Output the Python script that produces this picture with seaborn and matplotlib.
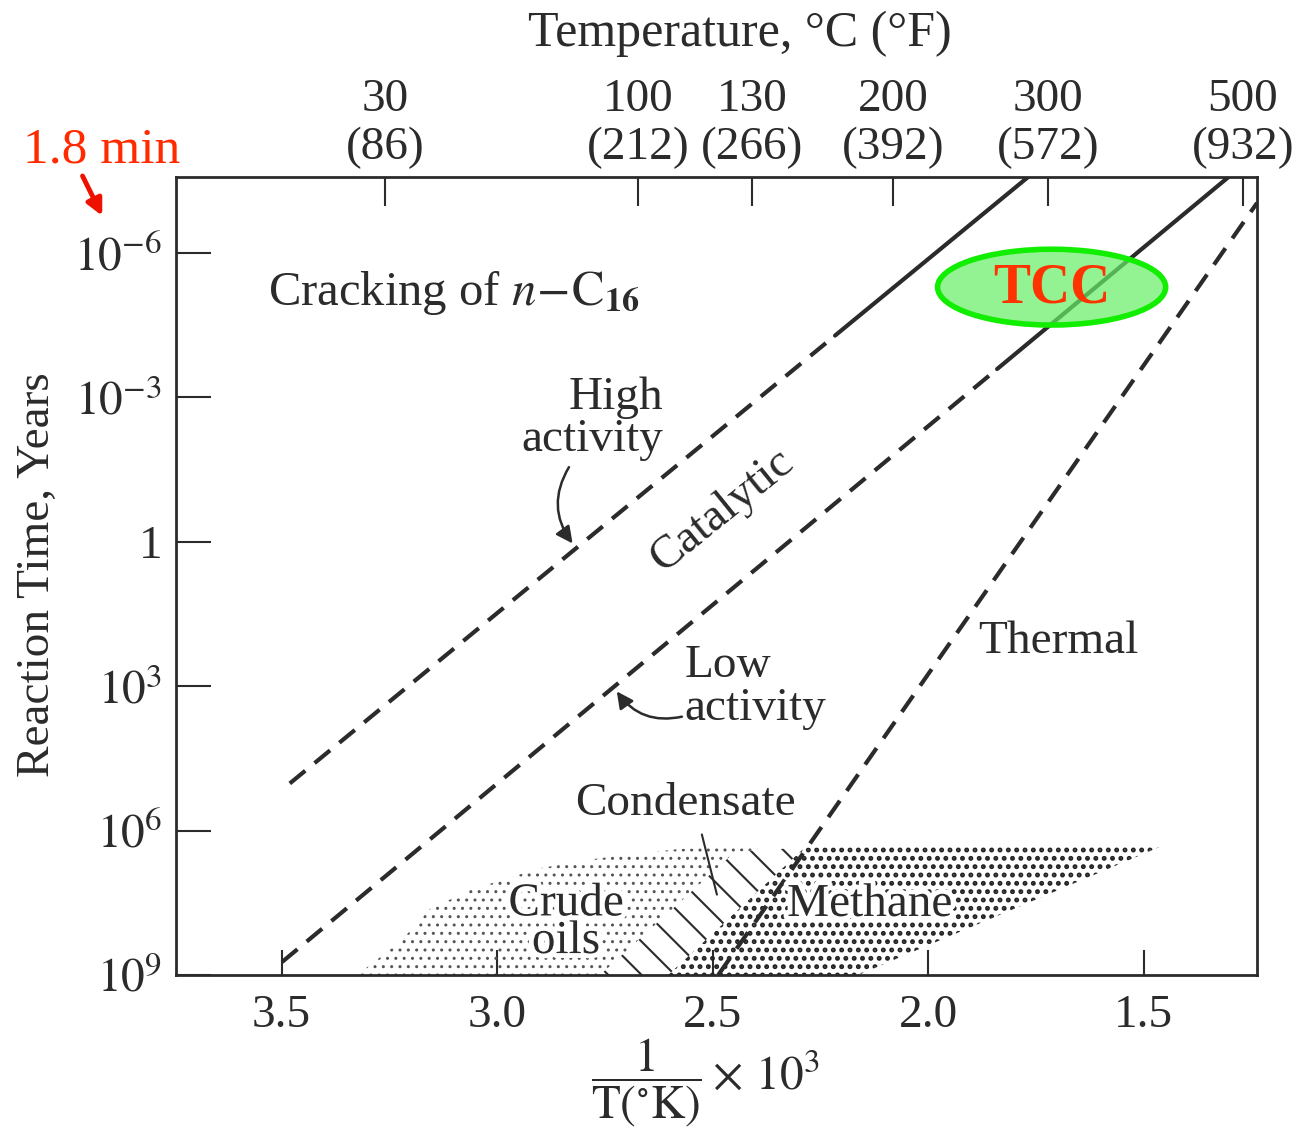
import numpy as np
import matplotlib
matplotlib.use("Agg")
import matplotlib.pyplot as plt
import matplotlib.patheffects as pe
import seaborn as sns
from matplotlib.patches import Ellipse, FancyArrowPatch

# axis ticks
inv_T_ticks = [3.5, 3.0, 2.5, 2.0, 1.5]
time_tick_exp = [-6, -3, 0, 3, 6, 9]
time_tick_labels = [r'$10^{-6}$', r'$10^{-3}$', '1', r'$10^{3}$', r'$10^{6}$', r'$10^{9}$']
temp_C = [30, 100, 130, 200, 300, 500]
temp_F = [86, 212, 266, 392, 572, 932]
temp_tick_pos = [3.26, 2.673, 2.409, 2.082, 1.722, 1.270]

# lines: 1000/T (K) vs log10(reaction time, years)
high_x = [3.481, 2.216, 1.768]
high_log = [5.02, -4.285, -7.58]
low_x = [3.499, 1.840, 1.303]
low_log = [8.73, -3.59, -7.58]
thermal_x = [2.487, 1.237]
thermal_log = [9.0, -7.04]

# shaded zones
crude_x = [3.325, 3.225, 3.156, 3.056, 2.977, 2.907, 2.768, 2.576, 2.390, 2.746]
crude_log = [9.0, 8.31, 7.63, 7.21, 7.0, 6.79, 6.58, 6.38, 6.33, 9.0]
condensate_x = [2.761, 2.448, 2.286, 2.603]
condensate_log = [9.0, 6.44, 6.35, 9.0]
methane_x = [2.603, 2.286, 1.455, 2.162]
methane_log = [9.0, 6.35, 6.31, 9.0]

sns.set_theme(style='white')
plt.rcParams['font.family'] = ['Liberation Serif', 'DejaVu Serif']
plt.rcParams['mathtext.fontset'] = 'stix'

ink = '#2b2b2b'
fs = 34
halo = [pe.withStroke(linewidth=7, foreground='white')]

fig = plt.figure(figsize=(13.01, 11.34), dpi=100)
fig.patch.set_facecolor('white')
ax = fig.add_axes([176 / 1301, 1 - 975 / 1134, 1081 / 1301, 798 / 1134])
ax.set_facecolor('white')

# zones
with plt.rc_context({'hatch.linewidth': 1.0}):
    ax.fill(crude_x, 10.0 ** np.array(crude_log), facecolor='none', edgecolor='#555555',
            hatch='..', linewidth=0, zorder=1)
with plt.rc_context({'hatch.linewidth': 1.5}):
    ax.fill(condensate_x, 10.0 ** np.array(condensate_log), facecolor='white', edgecolor=ink,
            hatch='\\', linewidth=0, zorder=2)
with plt.rc_context({'hatch.linewidth': 2.3}):
    ax.fill(methane_x, 10.0 ** np.array(methane_log), facecolor='none', edgecolor='#222222',
            hatch='..', linewidth=0, zorder=2)

dash = (0, (4.8, 2.9))
lw = 3.0
# high activity
sns.lineplot(x=high_x[:2], y=10.0 ** np.array(high_log[:2]), ax=ax, color=ink, linewidth=lw,
             linestyle=dash, sort=False, estimator=None)
sns.lineplot(x=high_x[1:], y=10.0 ** np.array(high_log[1:]), ax=ax, color=ink, linewidth=lw,
             sort=False, estimator=None)
# low activity
sns.lineplot(x=low_x[:2], y=10.0 ** np.array(low_log[:2]), ax=ax, color=ink, linewidth=lw,
             linestyle=dash, sort=False, estimator=None)
sns.lineplot(x=low_x[1:], y=10.0 ** np.array(low_log[1:]), ax=ax, color=ink, linewidth=lw,
             sort=False, estimator=None)
# thermal
sns.lineplot(x=thermal_x, y=10.0 ** np.array(thermal_log), ax=ax, color=ink, linewidth=lw,
             linestyle=dash, sort=False, estimator=None)

ax.set_yscale('log')
ax.set_xlim(3.745, 1.237)
ax.set_ylim(1e9, 10 ** -7.58)
ax.set_xticks(inv_T_ticks)
ax.set_xticklabels([f'{v:.1f}' for v in inv_T_ticks])
ax.set_yticks([10.0 ** e for e in time_tick_exp])
ax.set_yticklabels(time_tick_labels)
ax.minorticks_off()
ax.tick_params(axis='y', direction='in', length=25, width=1.5, color=ink, labelsize=fs,
               labelcolor=ink, pad=10, left=True)
ax.tick_params(axis='x', direction='in', length=18, width=1.5, color=ink, labelsize=fs,
               labelcolor=ink, pad=14, bottom=True)
for s in ax.spines.values():
    s.set_color(ink)
    s.set_linewidth(2)
ax.grid(False)

ax2 = ax.twiny()
ax2.set_xlim(ax.get_xlim())
ax2.set_xticks(temp_tick_pos)
ax2.set_xticklabels([f'{c}\n({f})' for c, f in zip(temp_C, temp_F)], linespacing=1.15)
ax2.tick_params(axis='x', direction='in', length=21, width=1.5, color=ink, labelsize=fs,
                labelcolor=ink, pad=6, top=True)
ax2.minorticks_off()
ax2.grid(False)
for s in ax2.spines.values():
    s.set_visible(False)

# annotations
ax.text(3.532, 10 ** -5.17, r'Cracking of $n\!-\!\mathrm{C}_{\mathbf{16}}$', fontsize=fs + 1,
        color=ink, ha='left', va='center')
ax.text(2.615, 10 ** -2.56, 'High\nactivity', fontsize=fs, color=ink, ha='right', va='center',
        multialignment='right', linespacing=1.0)
ax.text(2.478, 10 ** -0.646, 'Catalytic', fontsize=fs, color=ink, ha='center', va='center',
        rotation=39)
ax.text(2.565, 10 ** 3.02, 'Low\nactivity', fontsize=fs, color=ink, ha='left', va='center',
        multialignment='left', linespacing=1.0)
ax.text(1.698, 10 ** 2.08, 'Thermal', fontsize=fs, color=ink, ha='center', va='center')
ax.text(2.562, 10 ** 5.44, 'Condensate', fontsize=fs, color=ink, ha='center', va='center')
ax.text(2.840, 10 ** 7.92, 'Crude\noils', fontsize=fs, color=ink, ha='center', va='center',
        linespacing=0.85, zorder=4, path_effects=halo)
ax.text(2.135, 10 ** 7.54, 'Methane', fontsize=fs, color=ink, ha='center', va='center', zorder=4,
        path_effects=halo)

ax.annotate('', xy=(2.821, 10 ** 0.08), xytext=(2.83, 10 ** -1.60),
            arrowprops=dict(arrowstyle='-|>', color=ink, lw=1.8, mutation_scale=25,
                            connectionstyle='arc3,rad=0.35'))
ax.annotate('', xy=(2.726, 10 ** 3.06), xytext=(2.565, 10 ** 3.62),
            arrowprops=dict(arrowstyle='-|>', color=ink, lw=1.8, mutation_scale=25,
                            connectionstyle='arc3,rad=-0.35'))
sns.lineplot(x=[2.525, 2.490], y=[10 ** 6.08, 10 ** 7.33], ax=ax, color=ink, linewidth=1.5,
             sort=False, estimator=None)

# TCC marker
ell = Ellipse((0.810, 0.862), 0.211, 0.095, transform=ax.transAxes, facecolor='#66ee66',
              alpha=0.7, edgecolor='none', zorder=5)
ax.add_patch(ell)
ell2 = Ellipse((0.810, 0.862), 0.211, 0.095, transform=ax.transAxes, facecolor='none',
               edgecolor='#11ee00', linewidth=4, zorder=6)
ax.add_patch(ell2)
ax.text(0.810, 0.860, 'TCC', transform=ax.transAxes, fontsize=40, fontweight='bold',
        color='#ff3300', ha='center', va='center', zorder=7)

# figure level labels
fig.text(0.5688, 0.9700, 'Temperature, °C (°F)', fontsize=fs + 2, color=ink, ha='center',
         va='center')
fig.text(0.0292, 0.4929, 'Reaction Time, Years', fontsize=fs, color=ink, ha='center', va='center',
         rotation=90)
fig.text(0.5419, 0.0452, r'$\dfrac{1}{\mathrm{T(^{\circ}K)}}\times\,10^3$', fontsize=fs, color=ink,
         ha='center', va='center')
fig.text(0.0784, 0.8677, '1.8 min', fontsize=37, color='#ff2a00', ha='center', va='center')
fig.add_artist(FancyArrowPatch((0.0625, 0.8470), (0.0795, 0.8075), transform=fig.transFigure,
                               arrowstyle='-|>', mutation_scale=24, color='#ee1100', lw=3.5))

fig.savefig('out.png', dpi=100, facecolor='white')
